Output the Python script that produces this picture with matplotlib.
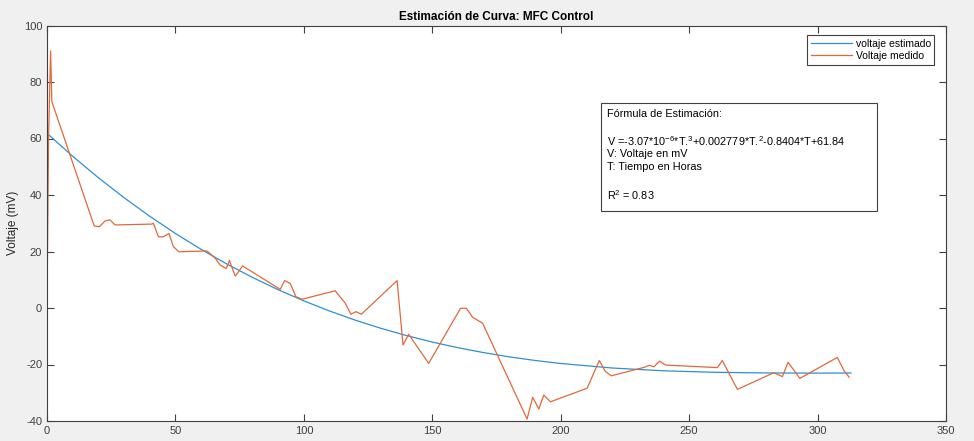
import matplotlib.pyplot as plt
from matplotlib.patches import Rectangle

plt.rcParams['font.family'] = ['Liberation Sans', 'DejaVu Sans']
plt.rcParams['axes.unicode_minus'] = False
plt.rcParams['mathtext.fontset'] = 'custom'
plt.rcParams['mathtext.rm'] = 'Liberation Sans'
plt.rcParams['mathtext.it'] = 'Liberation Sans'
plt.rcParams['mathtext.default'] = 'regular'

# Voltaje medido (horas, mV)
t_medido = [0, 0.6, 1.4, 1.9, 18.4, 20.4, 22.6, 24.5, 26.5, 40.8, 41.4, 43.4, 45.3, 47.5,
            49.2, 51.4, 62.2, 63.3, 65.5, 67.4, 69.8, 71.0, 73.3, 74.6, 76.1, 90.8, 92.5,
            94.7, 96.9, 99.3, 112.2, 116.1, 118.3, 120.3, 122.4, 136.3, 138.6, 140.8,
            148.6, 161.0, 163.3, 165.7, 169.6, 186.9, 189.1, 191.5, 193.4, 196.0, 210.3,
            215.0, 217.4, 219.7, 232.5, 234.5, 236.3, 238.5, 240.8, 261.0, 262.9, 268.8,
            283.0, 286.3, 288.5, 293.1, 307.7, 310.3, 312.3]
v_medido = [0, 60, 91, 73, 29, 28.8, 30.8, 31.2, 29.4, 29.7, 30, 25.2, 25.2, 26.4,
            21.7, 19.9, 20.2, 19.4, 17.6, 15.2, 14, 16.8, 11.3, 12.9, 14.9, 6.6, 9.7,
            8.7, 4.0, 3.1, 6.1, 1.7, -2.2, -1.3, -2.2, 9.7, -13.1, -9.3,
            -19.6, -0.1, -0.1, -3.3, -5.4, -39.3, -31.6, -35.8, -30.8, -33.2, -28.4,
            -18.6, -22.5, -24.0, -21.0, -20.3, -20.8, -18.8, -20.2, -21.1, -18.6, -28.8,
            -22.9, -24.3, -19.2, -24.9, -17.5, -22.2, -24.5]

# Voltaje estimado (curva ajustada)
t_estimado = [0, 10, 20, 30, 40, 50, 60, 70, 80, 90, 100, 110, 120, 130, 140, 150,
              160, 170, 180, 190, 200, 220, 240, 260, 280, 300, 313]
v_estimado = [61.84, 53.71, 46.12, 39.05, 32.47, 26.38, 20.76, 15.58, 10.82, 6.48, 2.52,
              -1.06, -4.30, -7.19, -9.77, -12.05, -14.06, -15.80, -17.30, -18.57,
              -19.64, -21.24, -22.23, -22.76, -22.99, -23.06, -23.0]

fig = plt.figure(figsize=(9.74, 4.41), dpi=100, facecolor='#f0f0f0')
ax = fig.add_axes([47 / 974, 1 - 421 / 441, 899 / 974, 395.5 / 441])

ax.plot(t_estimado, v_estimado, color='#2E8FD3', lw=0.9, label='voltaje estimado')
ax.plot(t_medido, v_medido, color='#E2683A', lw=0.9, label='Voltaje medido')

ax.set_xlim(0, 350)
ax.set_ylim(-40, 100)
ax.set_xticks(range(0, 351, 50))
ax.set_yticks(range(-40, 101, 20))
ax.tick_params(direction='in', length=5, width=0.8, top=True, right=True,
               labelsize=8, colors='#404040', labelcolor='#404040')
for s in ax.spines.values():
    s.set_color('#404040')
    s.set_linewidth(0.8)

ax.set_title('Estimación de Curva: MFC Control', fontsize=8.5, fontweight='bold', pad=4)
ax.set_ylabel('Voltaje (mV)', fontsize=8.5, color='#262626', labelpad=3)

leg = ax.legend(loc='upper right', bbox_to_anchor=(0.987, 0.975), fontsize=7.5,
                fancybox=False, edgecolor='#404040', framealpha=1,
                handlelength=4.0, borderpad=0.35, labelspacing=0.2, handletextpad=0.3,
                borderaxespad=0)
leg.get_frame().set_linewidth(0.8)

# Caja con la fórmula de estimación
x0, x1 = (600 - 47) / 898, (876 - 47) / 898
y0, y1 = (421 - 211) / 395.5, (421 - 103) / 395.5
ax.add_patch(Rectangle((x0, y0), x1 - x0, y1 - y0, transform=ax.transAxes,
                       facecolor='white', edgecolor='#404040', lw=0.8, zorder=5))
lineas = [
    (114, 'Fórmula de Estimación:'),
    (141, r'V =-3.07*10$^{-6}$*T.$^{3}$+0.002779*T.$^{2}$-0.8404*T+61.84'),
    (154, 'V: Voltaje en mV'),
    (167, 'T: Tiempo en Horas'),
    (195, r'R$^{2}$ = 0.83'),
]
for py, txt in lineas:
    ax.text((606 - 47) / 898, (421 - py) / 395.5, txt, transform=ax.transAxes,
            fontsize=7.8, va='center', ha='left', color='black', zorder=6)

fig.savefig('out.png', dpi=100, facecolor=fig.get_facecolor())
